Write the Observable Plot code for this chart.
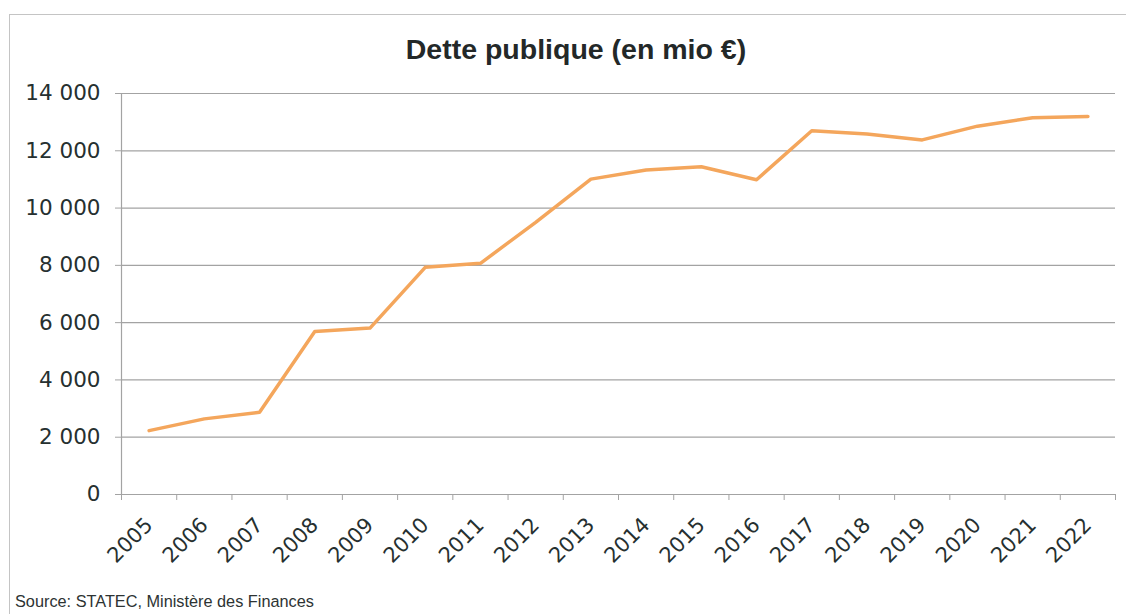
<!DOCTYPE html>
<html>
<head>
<meta charset="utf-8">
<script src="https://cdn.jsdelivr.net/npm/d3@7"></script>
<script src="https://cdn.jsdelivr.net/npm/@observablehq/plot@0.6"></script>
<style>
  html, body { margin: 0; padding: 0; background: #fff; }
  #wrap { position: relative; width: 1126px; height: 614px; overflow: hidden; background: #fff; }
  #frame { position: absolute; left: 9px; top: 14px; right: -5px; bottom: -5px;
           border-top: 1px solid #c4c4c4; border-left: 1px solid #c4c4c4; }
  #title { position: absolute; left: 0; top: 0; width: 1126px; height: 75px; box-sizing: border-box;
           padding-left: 26px; padding-top: 29px; text-align: center; font-family: "Liberation Sans", Arial, sans-serif;
           font-weight: bold; font-size: 28.5px; color: #232828; line-height: 40px; }
  #chart { position: absolute; left: 0; top: 75px; }
  #source { position: absolute; left: 15px; top: 592px; font-family: "Liberation Sans", Arial, sans-serif;
            font-size: 16.3px; color: #2d3333; }
</style>
</head>
<body>
<div id="wrap">
  <div id="frame"></div>
  <div id="title">Dette publique (en mio €)</div>
  <div id="chart"></div>
  <div id="source">Source: STATEC, Ministère des Finances</div>
</div>
<script>
const years = [2005, 2006, 2007, 2008, 2009, 2010, 2011, 2012, 2013, 2014, 2015, 2016, 2017, 2018, 2019, 2020, 2021, 2022];
const debt  = [2230, 2640, 2870, 5690, 5810, 7930, 8070, 9500, 11010, 11330, 11440, 10990, 12700, 12590, 12380, 12860, 13150, 13200];
const yTicks = [0, 2000, 4000, 6000, 8000, 10000, 12000, 14000];

const data = years.map((year, i) => ({year, value: debt[i]}));
const bounds = [years[0] - 0.5, ...years.map(y => y + 0.5)];
const fmt = d3.formatLocale({thousands: "\u2009", grouping: [3], decimal: ","}).format(",");
const fmtY = v => fmt(v).replace("\u2009", " ");

const chart = Plot.plot({
  width: 1126,
  height: 499,
  marginLeft: 121,
  marginRight: 11,
  marginTop: 18,
  marginBottom: 80,
  style: {fontFamily: "'DejaVu Sans', sans-serif", color: "#2d3333", background: "transparent"},
  x: {type: "linear", domain: [bounds[0], bounds[bounds.length - 1]]},
  y: {domain: [0, 14000]},
  marks: [
    Plot.gridY(yTicks, {stroke: "#a3a3a3", strokeOpacity: 1, strokeWidth: 1.2}),
    Plot.ruleX([bounds[0]], {stroke: "#a3a3a3", strokeWidth: 1.2}),
    Plot.axisY(yTicks, {tickFormat: fmtY, tickSize: 6, tickPadding: 15, fontSize: 21.5, stroke: "#a3a3a3", fill: "#263030", label: null}),
    Plot.axisX(bounds, {tickSize: 6, tickFormat: () => "", stroke: "#a3a3a3", label: null}),
    Plot.axisX(years, {tickSize: 0, tickRotate: -45, tickPadding: 27, fontSize: 21, tickFormat: d => String(d), fill: "#263030", label: null}),
    Plot.line(data, {x: "year", y: "value", stroke: "#f4a65c", strokeWidth: 3.5, strokeLinejoin: "round"})
  ]
});
document.getElementById("chart").appendChild(chart);
</script>
</body>
</html>
